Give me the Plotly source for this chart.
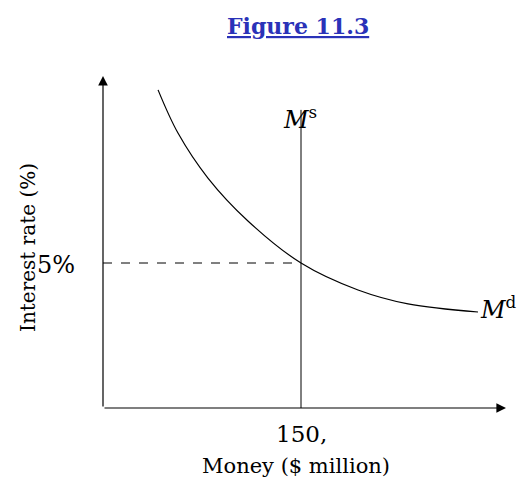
import plotly.graph_objects as go

# data (money in $ million, interest rate in %)
md_money = [41.7, 56.8, 79.5, 109.8, 150, 193.2, 231.1, 284.1]
md_rate = [10.97, 9.48, 7.93, 6.45, 5.0, 4.07, 3.59, 3.31]
eq_money = 150
eq_rate = 5
ms_top = 10.28

W, H = 527, 481
sx = 150 / 198
sy = 5 / 145
def px(x): return (x - 95) * sx
def py(y): return (400 - y) * sy

fig = go.Figure()
fig.add_trace(go.Scatter(x=md_money, y=md_rate, mode="lines",
                         line=dict(color="black", width=1.2, shape="spline")))
fig.add_trace(go.Scatter(x=[eq_money, eq_money], y=[0, ms_top], mode="lines",
                         line=dict(color="black", width=1)))
fig.add_trace(go.Scatter(x=[0, eq_money], y=[eq_rate, eq_rate], mode="lines",
                         line=dict(color="black", width=1, dash="dash")))

ann = []
ann.append(dict(x=0, y=py(68), ax=0, ay=0, xref="x", yref="y", axref="x", ayref="y",
                showarrow=True, arrowhead=2, arrowsize=1.6, arrowwidth=1.2, arrowcolor="black", text=""))
ann.append(dict(x=px(498), y=0, ax=0, ay=0, xref="x", yref="y", axref="x", ayref="y",
                showarrow=True, arrowhead=2, arrowsize=1.6, arrowwidth=1.2, arrowcolor="black", text=""))
serif = "DejaVu Serif"
def t(x, y, s, size=24, **kw):
    ann.append(dict(x=px(x), y=py(y), text=s, showarrow=False, xref="x", yref="y",
                    font=dict(family=serif, size=size, color="black"), **kw))
t(292, 110, "<i>M</i><sup>s</sup>", size=24)
t(490, 300, "<i>M</i><sup>d</sup>", size=24)
t(48, 257, "5%", size=24)
t(293, 426, "150,", size=23)
t(288, 458, "Money ($ million)", size=21)
t(20, 240, "Interest rate (%)", size=20, textangle=-90)
ann.append(dict(x=px(290), y=py(18), text="<u><b>Figure 11.3</b></u>", showarrow=False,
                xref="x", yref="y", font=dict(family="DejaVu Serif", size=22, color="#2a32b8")))

fig.update_layout(width=W, height=H, margin=dict(l=0, r=0, t=0, b=0),
                  plot_bgcolor="white", paper_bgcolor="white", showlegend=False,
                  annotations=ann,
                  xaxis=dict(range=[px(0), px(W)], visible=False, fixedrange=True),
                  yaxis=dict(range=[py(H), py(0)], visible=False, fixedrange=True))
fig.write_html("out.html")
